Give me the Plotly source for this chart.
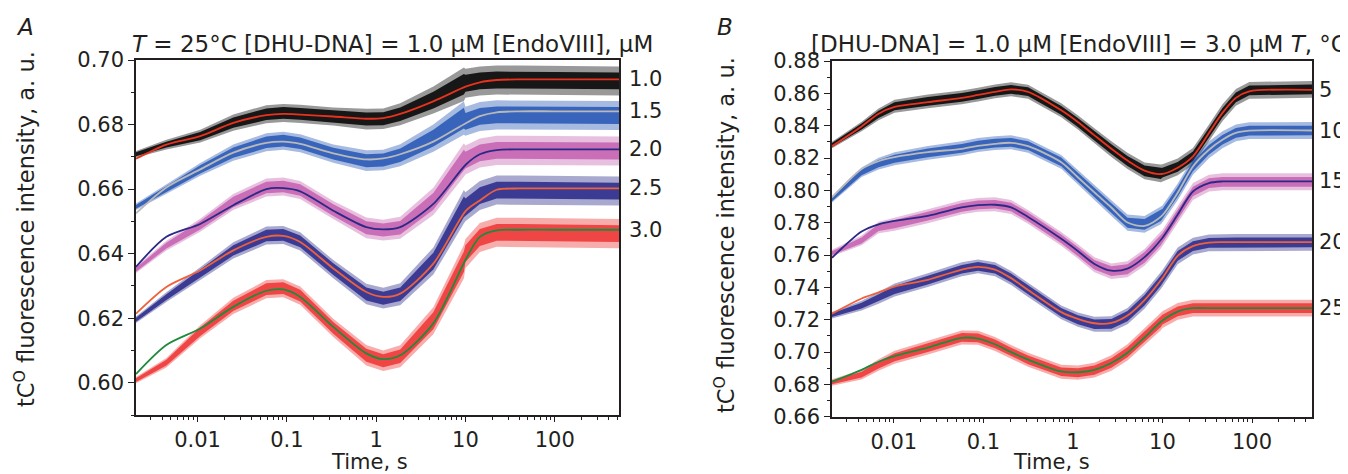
import plotly.graph_objects as go

# ---------------- Panel A : T = 25 C, [EndoVIII] varied (uM) ----------------
A_labels = ["1.0", "1.5", "2.0", "2.5", "3.0"]
tA_fit = [0.00204, 0.00447, 0.0107, 0.0251, 0.0589, 0.0912, 0.141, 0.331, 0.776, 1.20,
          1.86, 4.37, 10.2, 14.5, 22.4, 39.8, 100, 525]
fitA_10 = [0.6694, 0.6738, 0.6764, 0.6805, 0.6829, 0.6833, 0.6831, 0.6825, 0.6818, 0.6820,
           0.6833, 0.6872, 0.6918, 0.6931, 0.6938, 0.6940, 0.6940, 0.6940]
fitA_15 = [0.6525, 0.6605, 0.6661, 0.6713, 0.6743, 0.6747, 0.6740, 0.6711, 0.6692, 0.6695,
           0.6708, 0.6747, 0.6805, 0.6826, 0.6838, 0.6841, 0.6841, 0.6841]
fitA_20 = [0.6359, 0.6452, 0.6492, 0.6550, 0.6600, 0.6603, 0.6593, 0.6533, 0.6482, 0.6475,
           0.6482, 0.6554, 0.6677, 0.6708, 0.6721, 0.6723, 0.6723, 0.6723]
fitA_25 = [0.6214, 0.6297, 0.6348, 0.6410, 0.6452, 0.6455, 0.6436, 0.6354, 0.6281, 0.6266,
           0.6276, 0.6369, 0.6534, 0.6565, 0.6598, 0.6602, 0.6602, 0.6602]
fitA_30 = [0.6027, 0.6117, 0.6168, 0.6235, 0.6285, 0.6289, 0.6266, 0.6173, 0.6091, 0.6073,
           0.6085, 0.6184, 0.6385, 0.6452, 0.6472, 0.6474, 0.6474, 0.6474]

tA_dat = [0.00204, 0.00447, 0.0107, 0.0251, 0.0589, 0.0912, 0.141, 0.331, 0.776, 1.20,
          1.86, 4.37, 9.6, 10.0, 14.5, 22.4, 39.8, 100, 525]
datA_10 = [0.6708, 0.6738, 0.6764, 0.6806, 0.6832, 0.6836, 0.6833, 0.6825, 0.6817, 0.6818,
           0.6832, 0.6876, 0.6925, 0.6928, 0.6935, 0.6938, 0.6938, 0.6937, 0.6935]
datA_15 = [0.6545, 0.6600, 0.6661, 0.6713, 0.6745, 0.6750, 0.6742, 0.6710, 0.6688, 0.6690,
           0.6705, 0.6758, 0.6820, 0.6810, 0.6825, 0.6830, 0.6830, 0.6829, 0.6828]
datA_20 = [0.6350, 0.6425, 0.6488, 0.6560, 0.6605, 0.6608, 0.6597, 0.6535, 0.6480, 0.6473,
           0.6480, 0.6562, 0.6690, 0.6690, 0.6712, 0.6720, 0.6720, 0.6719, 0.6718]
datA_25 = [0.6195, 0.6265, 0.6338, 0.6410, 0.6456, 0.6458, 0.6438, 0.6352, 0.6275, 0.6262,
           0.6274, 0.6377, 0.6545, 0.6545, 0.6580, 0.6597, 0.6597, 0.6596, 0.6594]
datA_30 = [0.6008, 0.6062, 0.6158, 0.6238, 0.6290, 0.6293, 0.6270, 0.6170, 0.6085, 0.6068,
           0.6082, 0.6192, 0.6375, 0.6400, 0.6450, 0.6466, 0.6466, 0.6464, 0.6462]
coreA = [0.0006, 0.0009, 0.0013, 0.0016, 0.0018, 0.0018, 0.0018, 0.0018, 0.0020, 0.0020,
         0.0021, 0.0026, 0.0032, 0.0026, 0.0026, 0.0026, 0.0026, 0.0026, 0.0026]
outerA = [0.0010, 0.0015, 0.0020, 0.0025, 0.0028, 0.0028, 0.0028, 0.0028, 0.0032, 0.0032,
          0.0034, 0.0042, 0.0052, 0.0045, 0.0045, 0.0045, 0.0045, 0.0045, 0.0045]

# ---------------- Panel B : [EndoVIII] = 3 uM, T varied (C) ----------------
B_labels = ["5", "10", "15", "20", "25"]
tB_fit = [0.00204, 0.00437, 0.00676, 0.0102, 0.0240, 0.0575, 0.0871, 0.135, 0.204, 0.316,
          0.741, 1.135, 1.74, 2.69, 4.07, 6.31, 9.77, 14.8, 21.9, 33.1, 46.8, 66.1, 93.3, 470]
fitB_5 = [0.8273, 0.8395, 0.8474, 0.8516, 0.8545, 0.8572, 0.8590, 0.8609, 0.8624, 0.8609,
          0.8495, 0.8423, 0.8340, 0.8257, 0.8184, 0.8122, 0.8101, 0.8140, 0.8210, 0.8355,
          0.8479, 0.8572, 0.8612, 0.8622]
fitB_10 = [0.7956, 0.8132, 0.8180, 0.8205, 0.8236, 0.8257, 0.8275, 0.8288, 0.8294, 0.8273,
           0.8174, 0.8081, 0.7987, 0.7894, 0.7801, 0.7780, 0.7840, 0.7985, 0.8148, 0.8251,
           0.8313, 0.8355, 0.8369, 0.8370]
fitB_15 = [0.7583, 0.7745, 0.7790, 0.7811, 0.7842, 0.7894, 0.7908, 0.7911, 0.7895, 0.7835,
           0.7700, 0.7625, 0.7545, 0.7503, 0.7516, 0.7587, 0.7699, 0.7850, 0.7993, 0.8045,
           0.8055, 0.8055, 0.8055, 0.8055]
fitB_20 = [0.7237, 0.7331, 0.7369, 0.7405, 0.7447, 0.7510, 0.7527, 0.7510, 0.7457, 0.7384,
           0.7247, 0.7205, 0.7178, 0.7180, 0.7226, 0.7321, 0.7450, 0.7595, 0.7655, 0.7677,
           0.7680, 0.7680, 0.7680, 0.7680]
fitB_25 = [0.6817, 0.6890, 0.6940, 0.6974, 0.7027, 0.7088, 0.7083, 0.7048, 0.6999, 0.6953,
           0.6880, 0.6875, 0.6890, 0.6932, 0.6995, 0.7090, 0.7190, 0.7250, 0.7271, 0.7271,
           0.7271, 0.7271, 0.7271, 0.7271]

tB_dat = [0.00204, 0.00437, 0.00676, 0.0102, 0.0240, 0.0575, 0.0871, 0.135, 0.204, 0.316,
          0.741, 1.135, 1.74, 2.69, 4.07, 6.31, 9.6, 10.0, 14.8, 21.9, 33.1, 46.8, 66.1, 93.3, 470]
datB_5 = [0.8280, 0.8395, 0.8470, 0.8520, 0.8550, 0.8575, 0.8592, 0.8612, 0.8625, 0.8610,
          0.8495, 0.8420, 0.8338, 0.8255, 0.8182, 0.8120, 0.8105, 0.8110, 0.8145, 0.8210,
          0.8355, 0.8480, 0.8575, 0.8618, 0.8625]
datB_10 = [0.7945, 0.8112, 0.8165, 0.8195, 0.8232, 0.8260, 0.8280, 0.8292, 0.8297, 0.8276,
           0.8176, 0.8080, 0.7985, 0.7890, 0.7800, 0.7790, 0.7845, 0.7855, 0.7990, 0.8148,
           0.8251, 0.8313, 0.8355, 0.8369, 0.8370]
datB_15 = [0.7612, 0.7690, 0.7770, 0.7790, 0.7840, 0.7895, 0.7910, 0.7914, 0.7897, 0.7836,
           0.7700, 0.7622, 0.7540, 0.7500, 0.7512, 0.7585, 0.7695, 0.7705, 0.7850, 0.7993,
           0.8045, 0.8053, 0.8053, 0.8053, 0.8053]
datB_20 = [0.7228, 0.7287, 0.7335, 0.7384, 0.7445, 0.7512, 0.7530, 0.7512, 0.7458, 0.7384,
           0.7245, 0.7200, 0.7172, 0.7174, 0.7222, 0.7320, 0.7445, 0.7455, 0.7595, 0.7655,
           0.7675, 0.7678, 0.7678, 0.7678, 0.7678]
datB_25 = [0.6812, 0.6860, 0.6920, 0.6968, 0.7027, 0.7090, 0.7088, 0.7050, 0.7000, 0.6952,
           0.6878, 0.6872, 0.6888, 0.6932, 0.6998, 0.7095, 0.7190, 0.7200, 0.7252, 0.7271,
           0.7271, 0.7271, 0.7271, 0.7271, 0.7271]
coreB = [0.0012, 0.0018, 0.0022, 0.0025, 0.0027, 0.0027, 0.0027, 0.0027, 0.0027, 0.0027,
         0.0027, 0.0028, 0.0029, 0.0030, 0.0031, 0.0033, 0.0035, 0.0030, 0.0030, 0.0030,
         0.0030, 0.0030, 0.0030, 0.0030, 0.0030]
outerB = [0.0020, 0.0030, 0.0036, 0.0040, 0.0043, 0.0043, 0.0043, 0.0043, 0.0043, 0.0043,
          0.0043, 0.0044, 0.0046, 0.0048, 0.0050, 0.0052, 0.0055, 0.0052, 0.0052, 0.0052,
          0.0052, 0.0052, 0.0052, 0.0052, 0.0052]

# tick labels
x_tickvals = [0.01, 0.1, 1, 10, 100]
x_ticktext = ["0.01", "0.1", "1", "10", "100"]
yA_ticks = [0.60, 0.62, 0.64, 0.66, 0.68, 0.70]
yB_ticks = [0.66, 0.68, 0.70, 0.72, 0.74, 0.76, 0.78, 0.80, 0.82, 0.84, 0.86, 0.88]

# colours: (data colour, fit colour)
pal = [("#000000", "#e8321e"), ("#2456b4", "#b9b9b9"), ("#c45fb0", "#2a2a86"),
       ("#28288a", "#f0603a"), ("#ee3232", "#1f8a3e")]

FONT = "DejaVu Sans"
INK = "#231f20"
fig = go.Figure()


def rgba(hexc, a):
    h = hexc.lstrip("#")
    return "rgba(%d,%d,%d,%.2f)" % (int(h[0:2], 16), int(h[2:4], 16), int(h[4:6], 16), a)


def add_band(xa, ya, t, c, h, color, alpha):
    xs = list(t) + list(t[::-1])
    up = [a + b for a, b in zip(c, h)]
    lo = [a - b for a, b in zip(c, h)]
    ys = up + lo[::-1]
    fig.add_trace(go.Scatter(x=xs, y=ys, xaxis=xa, yaxis=ya, mode="lines", fill="toself",
                             fillcolor=rgba(color, alpha), line=dict(width=0),
                             hoverinfo="skip", showlegend=False))


def add_series(xa, ya, td, d, core, outer, tf, f, dc, fc):
    add_band(xa, ya, td, d, outer, dc, 0.40)
    add_band(xa, ya, td, d, core, dc, 0.85)
    fig.add_trace(go.Scatter(x=tf, y=f, xaxis=xa, yaxis=ya, mode="lines",
                             line=dict(color=fc, width=1.8, shape="spline", smoothing=0.8),
                             hoverinfo="skip", showlegend=False))


A_dat = [datA_10, datA_15, datA_20, datA_25, datA_30]
A_fit = [fitA_10, fitA_15, fitA_20, fitA_25, fitA_30]
B_dat = [datB_5, datB_10, datB_15, datB_20, datB_25]
B_fit = [fitB_5, fitB_10, fitB_15, fitB_20, fitB_25]

for i in range(5):
    add_series("x", "y", tA_dat, A_dat[i], coreA, outerA, tA_fit, A_fit[i], pal[i][0], pal[i][1])
    add_series("x2", "y2", tB_dat, B_dat[i], coreB, outerB, tB_fit, B_fit[i], pal[i][0], pal[i][1])

minor_x = [m * 10 ** k for k in range(-3, 3) for m in range(2, 10)]

# the page places the figure 8 px in from the top-left corner (default body margin)
OFF = 8
W, H = 1348, 474


def fx(px):
    return (px - OFF) / W


def fy(py):
    return 1 - (py - OFF) / H


axA = dict(l=136, r=619, t=60, b=415)
axB = dict(l=832, r=1312, t=61, b=416.7)

common_x = dict(type="log", tickvals=x_tickvals, ticktext=x_ticktext, ticks="outside",
                ticklen=5, tickwidth=1.3, tickcolor=INK, showline=True, mirror=True,
                linecolor=INK, linewidth=1.5, showgrid=False, zeroline=False,
                automargin=False,
                tickfont=dict(family=FONT, size=21, color=INK),
                minor=dict(tickvals=minor_x, ticks="outside", ticklen=3.5, tickcolor=INK,
                           tickwidth=1, showgrid=False))
common_y = dict(ticks="outside", ticklen=6, tickwidth=1.3, tickcolor=INK, showline=True,
                mirror=True, linecolor=INK, linewidth=1.5, showgrid=False, zeroline=False,
                automargin=False,
                tickfont=dict(family=FONT, size=21, color=INK),
                minor=dict(dtick=0.01, tick0=0, ticks="outside", ticklen=3.5, tickcolor=INK,
                           tickwidth=1, showgrid=False))

fig.update_layout(
    width=W, height=H, margin=dict(l=0, r=0, t=0, b=0, autoexpand=False),
    paper_bgcolor="white", plot_bgcolor="white", showlegend=False,
    xaxis=dict(common_x, domain=[fx(axA["l"]), fx(axA["r"])], range=[-2.69, 2.72], anchor="y"),
    yaxis=dict(common_y, domain=[fy(axA["b"]), fy(axA["t"])], range=[0.59, 0.70],
               tickvals=yA_ticks, ticktext=["%.2f" % v for v in yA_ticks], anchor="x"),
    xaxis2=dict(common_x, domain=[fx(axB["l"]), fx(axB["r"])], range=[-2.69, 2.67], anchor="y2"),
    yaxis2=dict(common_y, domain=[fy(axB["b"]), fy(axB["t"])], range=[0.66, 0.88],
                tickvals=yB_ticks, ticktext=["%.2f" % v for v in yB_ticks], anchor="x2"),
)

ann = []
tf = dict(family=FONT, size=21, color=INK)
tt = dict(family=FONT, size=23, color=INK)
ty = dict(family=FONT, size=22.5, color=INK)
tx = dict(family=FONT, size=21, color=INK)


def note(text, px, py, font, **kw):
    d = dict(text=text, x=fx(px), y=fy(py), xref="paper", yref="paper",
             xanchor="center", yanchor="middle", showarrow=False, font=font, borderpad=0)
    d.update(kw)
    ann.append(d)


# panel letters
note("<i>A</i>", 25, 27, tt)
note("<i>B</i>", 725, 27, tt)
# panel titles
note("<i>T</i> = 25°C [DHU-DNA] = 1.0 μM [EndoVIII], μM", 392, 44, tt)
note("[DHU-DNA] = 1.0 μM [EndoVIII] = 3.0 μM <i>T</i>, °C", 1079, 44, tt)
# y titles
ytxt = "tC<sup>O</sup> fluorescence intensity, a. u."
note(ytxt, 25, 229, ty, textangle=-90)
note(ytxt, 724, 235, ty, textangle=-90)
# x titles
note("Time, s", 369, 462, tx)
note("Time, s", 1051, 462, tx)
# series labels at right
for i in range(5):
    ann.append(dict(text=A_labels[i], x=fx(628), y=A_fit[i][-1], xref="paper", yref="y",
                    xanchor="left", yanchor="middle", showarrow=False, font=tf, borderpad=0))
    ann.append(dict(text=B_labels[i], x=fx(1318), y=B_fit[i][-1], xref="paper", yref="y2",
                    xanchor="left", yanchor="middle", showarrow=False, font=tf, borderpad=0))

fig.update_layout(annotations=ann)
fig.write_html("out.html")
